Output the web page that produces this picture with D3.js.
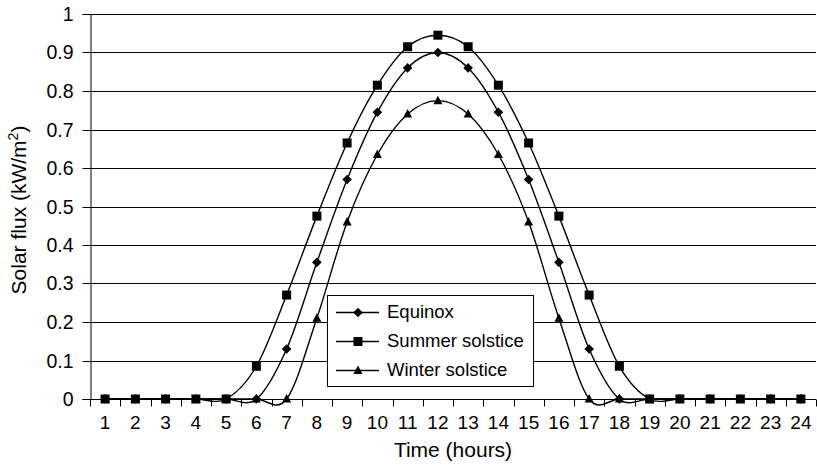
<!DOCTYPE html>
<html><head><meta charset="utf-8">
<script src="https://cdn.jsdelivr.net/npm/d3@7"></script>
<style>body{margin:0;background:#fff}svg{display:block}text{font-family:"Liberation Sans",Arial,sans-serif;fill:#000}</style>
</head><body><svg id="c" width="817" height="468"></svg>
<script>
const hours = [1,2,3,4,5,6,7,8,9,10,11,12,13,14,15,16,17,18,19,20,21,22,23,24];
const equinox = [0,0,0,0,0,0,0.13,0.355,0.57,0.745,0.86,0.9,0.86,0.745,0.57,0.355,0.13,0,0,0,0,0,0,0];
const summer = [0,0,0,0,0,0.085,0.27,0.475,0.665,0.815,0.915,0.945,0.915,0.815,0.665,0.475,0.27,0.085,0,0,0,0,0,0];
const winter = [0,0,0,0,0,0,0,0.21,0.46,0.635,0.74,0.775,0.74,0.635,0.46,0.21,0,0,0,0,0,0,0,0];
const yTicks = [0,0.1,0.2,0.3,0.4,0.5,0.6,0.7,0.8,0.9,1];
const yTickLabels = ["0","0.1","0.2","0.3","0.4","0.5","0.6","0.7","0.8","0.9","1"];
const seriesNames = ["Equinox","Summer solstice","Winter solstice"];
const seriesData = [equinox, summer, winter];
const seriesMarkers = ["diamond","square","triangle"];

const svg = d3.select("#c");
const L = 90, R = 816, T = 14, B = 399;
const x = d3.scaleBand().domain(hours).range([L, R]).paddingInner(0).paddingOuter(0);
const y = d3.scaleLinear().domain([0,1]).range([B, T]);

// gridlines
svg.append("g").selectAll("line").data(yTicks.filter(d=>d>0)).join("line")
  .attr("x1", L).attr("x2", R)
  .attr("y1", d=>Math.round(y(d))+0.5).attr("y2", d=>Math.round(y(d))+0.5)
  .attr("stroke", "#000").attr("stroke-width", 1);

// y axis
const ya = svg.append("g").attr("transform", `translate(${L+0.5},0)`)
  .call(d3.axisLeft(y).tickValues(yTicks).tickFormat((d,i)=>yTickLabels[i]).tickSize(8).tickPadding(9));
ya.selectAll("text").style("font-size","19.5px");
ya.selectAll("line, path").attr("stroke","#000");
ya.selectAll(".tick").attr("transform", d=>`translate(0,${Math.round(y(d))+0.5})`);

// x axis
const xa = svg.append("g").attr("transform", `translate(0,${B+0.5})`)
  .call(d3.axisBottom(x).tickSize(0).tickPadding(16));
xa.selectAll("text").style("font-size","19px");
xa.select(".domain").attr("stroke","#000").attr("d", `M${L},0H${R}`);
xa.append("g").selectAll("line").data(d3.range(hours.length+1)).join("line")
  .attr("x1", i=>Math.round(L + i*x.step())+0.5).attr("x2", i=>Math.round(L + i*x.step())+0.5)
  .attr("y1", 0).attr("y2", 7).attr("stroke","#000");

// series
const line = d3.line().x((d,i)=>x(hours[i])+x.bandwidth()/2).y(d=>y(d)).curve(d3.curveCatmullRom.alpha(0));
const markerPath = {
  diamond: "M0,-4.8L4.8,0L0,4.8L-4.8,0Z",
  square: "M-4.5,-4.5H4.5V4.5H-4.5Z",
  triangle: "M0,-5L4.5,3.5H-4.5Z"
};
seriesData.forEach((s, k) => {
  svg.append("path").datum(s).attr("d", line).attr("fill","none").attr("stroke","#000").attr("stroke-width",1.4);
});
seriesData.forEach((s, k) => {
  svg.append("g").selectAll("path").data(s).join("path")
    .attr("transform", (d,i)=>`translate(${x(hours[i])+x.bandwidth()/2},${y(d)})`)
    .attr("d", markerPath[seriesMarkers[k]]).attr("fill","#000");
});

// legend
const lg = svg.append("g");
lg.append("rect").attr("x",327.5).attr("y",295.5).attr("width",206).attr("height",91)
  .attr("fill","#fff").attr("stroke","#000").attr("stroke-width",1);
seriesNames.forEach((n,k)=>{
  const cy = 312 + k*29;
  lg.append("line").attr("x1",336).attr("x2",379).attr("y1",cy+0.5).attr("y2",cy+0.5).attr("stroke","#000").attr("stroke-width",1.4);
  lg.append("path").attr("transform",`translate(358,${cy+0.5})`).attr("d",markerPath[seriesMarkers[k]]).attr("fill","#000");
  lg.append("text").attr("x",387).attr("y",cy).attr("dy","0.35em").style("font-size","18.5px").text(n);
});

// axis titles
svg.append("text").attr("x", 453).attr("y", 457).attr("text-anchor","middle").style("font-size","21px").text("Time (hours)");
const yt = svg.append("text").attr("transform","translate(26,210) rotate(-90)").attr("text-anchor","middle").style("font-size","21px");
yt.append("tspan").text("Solar flux (kW/m");
yt.append("tspan").attr("dy",-8).style("font-size","14px").text("2");
yt.append("tspan").attr("dy",8).text(")");
</script></body></html>
